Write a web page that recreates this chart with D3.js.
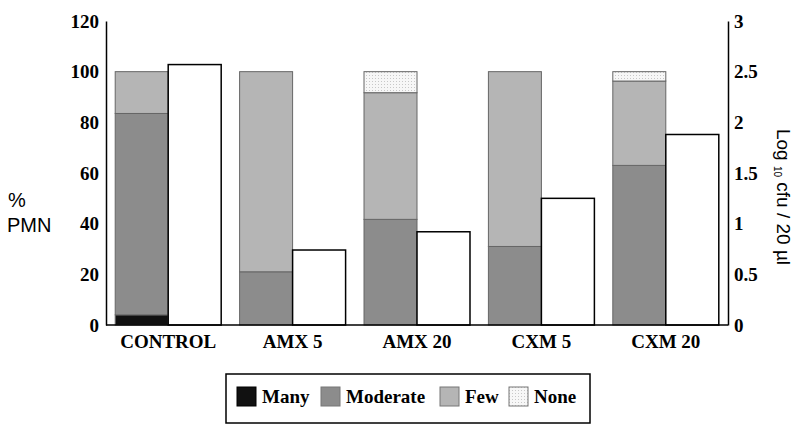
<!DOCTYPE html>
<html>
<head>
<meta charset="utf-8">
<script src="https://cdn.jsdelivr.net/npm/d3@7"></script>
<style>
  body { margin: 0; background: #fff; }
  svg { display: block; }
  .tick text { font-family: "Liberation Serif", "Times New Roman", serif; font-weight: bold; }
</style>
</head>
<body>
<div id="chart"></div>
<script>
const categories = ['CONTROL', 'AMX 5', 'AMX 20', 'CXM 5', 'CXM 20'];
const many = [4, 0, 0, 0, 0];
const moderate = [79.5, 21, 41.7, 31, 63];
const few = [16.5, 79, 50, 69, 33.3];
const none = [0, 0, 8.3, 0, 3.7];
const cfu = [2.57, 0.74, 0.92, 1.25, 1.88];
const leftTicks = [0, 20, 40, 60, 80, 100, 120];
const rightTicks = [0, 0.5, 1, 1.5, 2, 2.5, 3];
const keys = ['Many', 'Moderate', 'Few', 'None'];

const width = 800, height = 432;
const plotLeft = 106, plotRight = 728, plotTop = 21, base = 325;

const svg = d3.select('#chart').append('svg')
  .attr('width', width).attr('height', height);

// dotted fill for "None"
const pat = svg.append('defs').append('pattern')
  .attr('id', 'dots').attr('width', 3).attr('height', 3)
  .attr('patternUnits', 'userSpaceOnUse');
pat.append('rect').attr('width', 3).attr('height', 3).attr('fill', '#f7f7f7');
pat.append('rect').attr('width', 1).attr('height', 1).attr('fill', '#c8c8c8');

const color = d3.scaleOrdinal().domain(keys)
  .range(['#111111', '#8c8c8c', '#b5b5b5', 'url(#dots)']);

const x0 = d3.scaleBand().domain(categories).range([plotLeft, plotRight])
  .paddingInner(0.148).paddingOuter(0.074);
const x1 = d3.scaleBand().domain(['pmn', 'cfu']).range([0, x0.bandwidth()]);
const yL = d3.scaleLinear().domain([0, 120]).range([base, plotTop]);
const yR = d3.scaleLinear().domain([0, 3]).range([base, plotTop]);

const rows = categories.map((c, i) => ({
  cat: c, Many: many[i], Moderate: moderate[i], Few: few[i], None: none[i], cfu: cfu[i]
}));
const series = d3.stack().keys(keys)(rows);

// stacked %PMN bars
svg.append('g').selectAll('g')
  .data(series)
  .join('g')
  .attr('fill', d => color(d.key))
  .selectAll('rect')
  .data(d => d.filter(s => s[1] - s[0] > 0))
  .join('rect')
  .attr('x', d => x0(d.data.cat) + x1('pmn'))
  .attr('width', x1.bandwidth())
  .attr('y', d => yL(d[1]))
  .attr('height', d => yL(d[0]) - yL(d[1]))
  .attr('stroke', '#666')
  .attr('stroke-width', 1);

// cfu bars
svg.append('g').selectAll('rect')
  .data(rows)
  .join('rect')
  .attr('x', d => x0(d.cat) + x1('cfu'))
  .attr('width', x1.bandwidth())
  .attr('y', d => yR(d.cfu))
  .attr('height', d => base - yR(d.cfu))
  .attr('fill', '#fff')
  .attr('stroke', '#000')
  .attr('stroke-width', 1.5);

// axes
const axL = svg.append('g').attr('transform', `translate(${plotLeft},0)`)
  .call(d3.axisLeft(yL).tickValues(leftTicks).tickSize(0).tickPadding(7));
const axR = svg.append('g').attr('transform', `translate(${plotRight},0)`)
  .call(d3.axisRight(yR).tickValues(rightTicks).tickSize(0).tickPadding(6)
    .tickFormat(d3.format('')));
const axB = svg.append('g').attr('transform', `translate(0,${base})`)
  .call(d3.axisBottom(x0).tickSize(0).tickPadding(10));
axB.select('.domain').attr('d', `M${plotLeft},0H${plotRight}`);
[axL, axR, axB].forEach(a => {
  a.select('.domain').attr('stroke', '#000').attr('stroke-width', 1.5);
  a.selectAll('.tick text').attr('font-size', 19).attr('fill', '#000');
});

// left title
const sans = '"Liberation Sans", Arial, sans-serif';
svg.append('text').attr('x', 8).attr('y', 207).text('%')
  .attr('font-family', sans).attr('font-size', 20);
svg.append('text').attr('x', 7).attr('y', 232).text('PMN')
  .attr('font-family', sans).attr('font-size', 20);

// right title
const rt = svg.append('text')
  .attr('transform', 'translate(777,197) rotate(90)')
  .attr('text-anchor', 'middle')
  .attr('font-family', sans).attr('font-size', 19);
rt.append('tspan').text('Log ');
rt.append('tspan').text('10').attr('font-size', 10).attr('dy', 3);
rt.append('tspan').text(' cfu / 20 µl').attr('dy', -3);

// legend
const lg = svg.append('g');
lg.append('rect').attr('x', 226).attr('y', 374).attr('width', 364).attr('height', 49)
  .attr('fill', '#fff').attr('stroke', '#000').attr('stroke-width', 1.5);
const legX = [237, 321, 440, 509];
const item = lg.selectAll('g.item').data(keys).join('g')
  .attr('transform', (d, i) => `translate(${legX[i]},387)`);
item.append('rect').attr('width', 19).attr('height', 19)
  .attr('fill', d => color(d))
  .attr('stroke', d => d === 'Many' ? '#000' : '#777').attr('stroke-width', 1);
item.append('text').attr('x', 25).attr('y', 16).text(d => d)
  .attr('font-family', '"Liberation Serif", "Times New Roman", serif')
  .attr('font-weight', 'bold').attr('font-size', 19);
</script>
</body>
</html>
